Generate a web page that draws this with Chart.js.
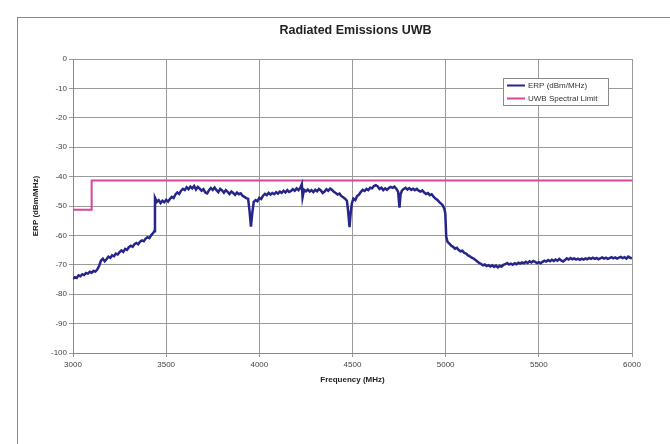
<!DOCTYPE html>
<html>
<head>
<meta charset="utf-8">
<script src="https://cdn.jsdelivr.net/npm/chart.js@4"></script>
<style>
    html, body { margin: 0; padding: 0; background: #fff; }
    #wrap { position: absolute; left: 0; top: 0; width: 670px; height: 444px; }
    #frame { position: absolute; left: 17px; top: 17px; width: 700px; height: 500px; border: 1px solid #8a8a8a; }
</style>
</head>
<body>
<div id="frame"></div>
<div id="wrap"><canvas id="uwbChart" width="670" height="444"></canvas></div>
<script>
// tick labels
const freqTicks = [3000, 3500, 4000, 4500, 5000, 5500, 6000];
const erpTicks = [0, -10, -20, -30, -40, -50, -60, -70, -80, -90, -100];

// UWB spectral limit (MHz, dBm/MHz)
const limitFreqs = [3000, 3100, 3100, 6000];
const limitLevels = [-51.3, -51.3, -41.3, -41.3];

// measured ERP, [MHz, dBm/MHz]
const erpPoints = [
    [3000, -74.8], [3010, -74.2], [3020, -74.5], [3030, -73.6], [3040, -73.9], [3050, -73.2],
    [3060, -73.5], [3070, -72.8], [3080, -73.0], [3090, -72.4], [3100, -72.7], [3110, -72.1],
    [3120, -72.3], [3130, -71.6], [3140, -70.4], [3150, -68.6], [3160, -67.9], [3170, -68.8],
    [3180, -68.1], [3190, -67.2], [3200, -67.6], [3210, -66.8], [3220, -67.1], [3230, -66.2],
    [3240, -66.5], [3250, -65.7], [3260, -65.1], [3270, -65.6], [3280, -64.6], [3290, -64.9],
    [3300, -64.0], [3310, -63.5], [3320, -63.9], [3330, -63.0], [3340, -62.6], [3350, -63.0],
    [3360, -62.1], [3370, -61.7], [3380, -62.0], [3390, -61.1], [3400, -60.6], [3410, -60.9],
    [3420, -59.9], [3430, -59.2], [3436, -58.6], [3440, -47.2], [3450, -48.6], [3460, -48.0],
    [3470, -49.0], [3480, -48.2], [3490, -48.7], [3500, -47.9], [3510, -48.5], [3520, -47.6],
    [3530, -46.9], [3540, -47.3], [3550, -46.1], [3560, -45.4], [3570, -45.9], [3580, -44.8],
    [3590, -44.2], [3600, -44.6], [3610, -43.6], [3620, -44.3], [3630, -43.4], [3640, -44.0],
    [3650, -43.2], [3660, -44.4], [3670, -43.5], [3680, -44.1], [3690, -44.8], [3700, -44.3],
    [3710, -45.4], [3720, -45.7], [3730, -44.6], [3740, -43.9], [3750, -44.5], [3760, -43.7],
    [3770, -44.6], [3780, -45.3], [3790, -44.2], [3800, -44.7], [3810, -45.5], [3820, -44.6],
    [3830, -45.2], [3840, -45.9], [3850, -45.1], [3860, -45.6], [3870, -46.2], [3880, -45.4],
    [3890, -46.0], [3900, -45.7], [3910, -46.5], [3920, -46.9], [3930, -47.3], [3940, -47.6],
    [3948, -52.0], [3955, -57.0], [3962, -52.5], [3970, -48.6], [3980, -48.0], [3990, -48.4],
    [4000, -47.2], [4010, -47.6], [4020, -46.5], [4030, -45.9], [4040, -46.3], [4050, -45.5],
    [4060, -46.1], [4070, -45.6], [4080, -46.0], [4090, -45.3], [4100, -45.8], [4110, -45.1],
    [4120, -45.5], [4130, -44.8], [4140, -45.4], [4150, -44.6], [4160, -45.2], [4170, -44.9],
    [4180, -44.3], [4190, -44.8], [4200, -44.0], [4210, -44.6], [4220, -43.8], [4228, -42.6],
    [4232, -47.0], [4240, -44.5], [4250, -45.0], [4260, -44.4], [4270, -45.1], [4280, -44.6],
    [4290, -45.3], [4300, -44.5], [4310, -45.0], [4320, -44.2], [4330, -44.7], [4340, -45.6],
    [4350, -45.1], [4360, -44.3], [4370, -44.8], [4380, -44.1], [4390, -44.5], [4400, -45.2],
    [4410, -45.6], [4420, -46.1], [4430, -45.8], [4440, -46.6], [4450, -47.0], [4460, -47.5],
    [4470, -48.2], [4477, -52.0], [4484, -57.2], [4490, -52.5], [4497, -49.0], [4505, -47.5],
    [4515, -48.0], [4525, -46.6], [4535, -46.1], [4545, -45.2], [4555, -44.5], [4565, -44.9],
    [4575, -44.2], [4585, -44.6], [4595, -43.8], [4605, -44.0], [4615, -43.2], [4625, -42.9],
    [4635, -43.3], [4645, -44.2], [4655, -43.8], [4665, -44.6], [4675, -44.0], [4685, -44.5],
    [4695, -43.9], [4705, -43.5], [4715, -43.8], [4725, -43.4], [4735, -44.1], [4745, -45.2],
    [4752, -50.6], [4758, -46.0], [4765, -44.8], [4775, -44.2], [4785, -43.8], [4795, -44.4],
    [4805, -43.9], [4815, -44.5], [4825, -44.1], [4835, -44.6], [4845, -44.2], [4855, -44.8],
    [4865, -45.1], [4875, -44.7], [4885, -45.4], [4895, -45.9], [4905, -45.6], [4915, -46.3],
    [4925, -46.0], [4935, -46.8], [4945, -47.5], [4955, -47.9], [4965, -48.6], [4975, -49.2],
    [4985, -49.8], [4993, -51.0], [4998, -52.5], [5003, -60.5], [5010, -62.2], [5020, -62.8],
    [5030, -63.5], [5040, -63.9], [5050, -64.5], [5060, -64.2], [5070, -65.0], [5080, -65.4],
    [5090, -65.2], [5100, -66.0], [5110, -66.2], [5120, -66.8], [5130, -67.1], [5140, -67.6],
    [5150, -67.9], [5160, -68.4], [5170, -68.9], [5180, -69.4], [5190, -69.7], [5200, -70.2],
    [5210, -69.9], [5220, -70.4], [5230, -70.1], [5240, -70.6], [5250, -70.2], [5260, -70.7],
    [5270, -70.3], [5280, -70.9], [5290, -70.4], [5300, -70.6], [5310, -70.0], [5320, -69.8],
    [5330, -69.4], [5340, -69.9], [5350, -69.6], [5360, -70.0], [5370, -69.5], [5380, -69.8],
    [5390, -69.3], [5400, -69.6], [5410, -69.2], [5420, -69.5], [5430, -69.0], [5440, -69.4],
    [5450, -68.8], [5460, -69.2], [5470, -68.7], [5480, -69.0], [5490, -69.4], [5500, -69.1],
    [5510, -69.5], [5520, -69.0], [5530, -68.6], [5540, -68.9], [5550, -68.4], [5560, -68.8],
    [5570, -68.3], [5580, -68.7], [5590, -68.2], [5600, -68.6], [5610, -68.0], [5620, -68.5],
    [5630, -68.9], [5640, -68.4], [5650, -67.8], [5660, -68.2], [5670, -67.7], [5680, -68.1],
    [5690, -67.8], [5700, -68.2], [5710, -67.9], [5720, -68.3], [5730, -67.9], [5740, -68.2],
    [5750, -67.8], [5760, -68.1], [5770, -67.7], [5780, -68.0], [5790, -67.6], [5800, -68.0],
    [5810, -67.7], [5820, -68.1], [5830, -67.8], [5840, -67.5], [5850, -67.9], [5860, -67.6],
    [5870, -68.0], [5880, -67.7], [5890, -67.4], [5900, -67.8], [5910, -67.5], [5920, -67.9],
    [5930, -67.6], [5940, -67.3], [5950, -67.7], [5960, -67.4], [5970, -67.9], [5980, -67.2],
    [5990, -67.6], [6000, -67.8]
];

const chartTitle = 'Radiated Emissions UWB';
const seriesNames = ['ERP (dBm/MHz)', 'UWB Spectral Limit'];
const seriesColors = ['#26268a', '#d8459c'];

const fontFamily = '"Liberation Sans", Arial, sans-serif';

// title centred over the plot area and legend inside the plot, like the spreadsheet original
const sheetDecor = {
    id: 'sheetDecor',
    afterDraw(chart) {
        const ctx = chart.ctx;
        const area = chart.chartArea;
        ctx.save();
        ctx.fillStyle = '#222';
        ctx.font = 'bold 12.5px ' + fontFamily;
        ctx.textAlign = 'center';
        ctx.textBaseline = 'middle';
        ctx.fillText(chartTitle, (area.left + area.right) / 2 + 3, 31);

        const x = 503, y = 78, w = 105, h = 27;
        ctx.fillStyle = '#fff';
        ctx.fillRect(x, y, w, h);
        ctx.strokeStyle = '#8a8a8a';
        ctx.lineWidth = 1;
        ctx.strokeRect(x + 0.5, y + 0.5, w, h);
        ctx.font = '8px ' + fontFamily;
        ctx.textAlign = 'left';
        chart.data.datasets.forEach((ds, i) => {
            const ry = y + 7.5 + i * 13;
            ctx.strokeStyle = ds.borderColor;
            ctx.lineWidth = 2;
            ctx.beginPath();
            ctx.moveTo(x + 4, ry);
            ctx.lineTo(x + 22, ry);
            ctx.stroke();
            ctx.fillStyle = '#333';
            ctx.fillText(ds.label, x + 25, ry + 0.5);
        });
        ctx.restore();
    }
};

const chart = new Chart(document.getElementById('uwbChart'), {
    type: 'line',
    data: {
        datasets: [
            {
                label: seriesNames[0],
                data: erpPoints.map(p => ({ x: p[0], y: p[1] })),
                borderColor: seriesColors[0],
                borderWidth: 2.5,
                pointRadius: 0,
                tension: 0
            },
            {
                label: seriesNames[1],
                data: limitFreqs.map((f, i) => ({ x: f, y: limitLevels[i] })),
                borderColor: seriesColors[1],
                borderWidth: 2,
                pointRadius: 0,
                tension: 0
            }
        ]
    },
    options: {
        responsive: false,
        animation: false,
        layout: { padding: { left: 31, right: 38, top: 59, bottom: 59 } },
        plugins: {
            legend: { display: false },
            tooltip: { enabled: false },
            title: { display: false }
        },
        scales: {
            x: {
                type: 'linear',
                min: 3000,
                max: 6000,
                afterBuildTicks: s => { s.ticks = freqTicks.map(v => ({ value: v })); },
                afterFit: s => { s.height = 32; },
                ticks: {
                    color: '#444',
                    font: { family: fontFamily, size: 8 },
                    padding: 3,
                    maxRotation: 0,
                    callback: v => String(v)
                },
                grid: { color: '#9a9a9a', lineWidth: 1, tickLength: 4 },
                border: { color: '#888' },
                title: {
                    display: true,
                    text: 'Frequency (MHz)',
                    color: '#222',
                    font: { family: fontFamily, size: 8, weight: 'bold' },
                    padding: 0
                }
            },
            y: {
                min: -100,
                max: 0,
                afterBuildTicks: s => { s.ticks = erpTicks.map(v => ({ value: v })); },
                afterFit: s => { s.width = 42; },
                ticks: {
                    color: '#444',
                    font: { family: fontFamily, size: 8 },
                    padding: 2,
                    callback: v => String(v)
                },
                grid: { color: '#9a9a9a', lineWidth: 1, tickLength: 4 },
                border: { color: '#888' },
                title: {
                    display: true,
                    text: 'ERP (dBm/MHz)',
                    color: '#222',
                    font: { family: fontFamily, size: 8, weight: 'bold' },
                    padding: 0
                }
            }
        }
    },
    plugins: [sheetDecor]
});
</script>
</body>
</html>
